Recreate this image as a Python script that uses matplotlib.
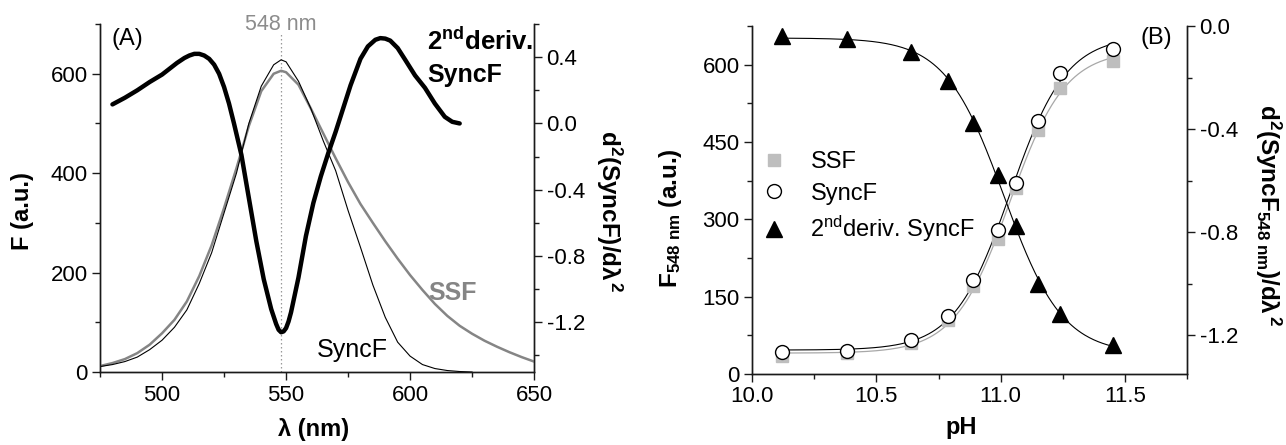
import matplotlib
matplotlib.use("Agg")
import matplotlib.pyplot as plt
import matplotlib.transforms as mtransforms
from matplotlib.ticker import MultipleLocator
import numpy as np

plt.rcParams['font.family'] = ['Liberation Sans', 'DejaVu Sans']
plt.rcParams['mathtext.fontset'] = 'custom'
plt.rcParams['mathtext.rm'] = 'Liberation Sans'
plt.rcParams['mathtext.it'] = 'Liberation Sans:italic'
plt.rcParams['mathtext.bf'] = 'Liberation Sans:bold'

# ---- panel A: spectra ----
# synchronous fluorescence (thin black)
wl_sync = [475, 480, 485, 490, 495, 500, 505, 510, 515, 520, 525, 530, 535, 540,
           545, 548, 550, 555, 560, 565, 570, 575, 580, 585, 590, 595, 600, 605,
           610, 615, 620, 625]
syncf = [11, 15, 21, 30, 45, 64, 90, 125, 178, 240, 320, 400, 500, 575,
         618, 628, 624, 585, 530, 465, 405, 325, 251, 175, 110, 60, 32, 15,
         7, 3, 1, 0]

# steady-state fluorescence (grey)
wl_ssf = [475, 480, 485, 490, 495, 500, 505, 510, 515, 520, 525, 530, 535, 540,
          545, 548, 550, 555, 560, 565, 570, 575, 580, 585, 590, 595, 600, 605,
          610, 615, 620, 625, 630, 635, 640, 645, 650]
ssf = [12, 18, 26, 38, 55, 78, 105, 142, 193, 255, 330, 410, 495, 565,
       600, 606, 603, 578, 530, 480, 430, 382, 338, 300, 263, 228, 195, 165,
       137, 113, 93, 77, 63, 51, 40, 30, 21]

# second derivative of SyncF (thick black, right axis)
wl_d2 = [480, 485, 490, 495, 500, 503, 506, 509, 511, 513, 515, 517, 519, 521,
         523, 525, 527, 529, 532, 535, 538, 541, 544, 546, 547, 548, 549, 550,
         551, 552, 555, 558, 561, 564, 567, 570, 573, 576, 580, 583, 586, 588,
         590, 592, 595, 598, 602, 606, 610, 614, 617, 620]
d2_sync = [0.115, 0.155, 0.20, 0.25, 0.295, 0.33, 0.365, 0.395, 0.41, 0.42, 0.42,
           0.41, 0.39, 0.355, 0.30, 0.22, 0.12, 0.00, -0.19, -0.45, -0.71, -0.94,
           -1.12, -1.21, -1.245, -1.26, -1.255, -1.235, -1.195, -1.14, -0.93,
           -0.68, -0.48, -0.32, -0.18, -0.05, 0.09, 0.23, 0.39, 0.465, 0.505,
           0.515, 0.512, 0.50, 0.455, 0.385, 0.29, 0.215, 0.12, 0.04, 0.01, 0.00]

peak_wl = 548

# ---- panel B: pH titration ----
ph = np.array([10.12, 10.38, 10.64, 10.79, 10.89, 10.99, 11.06, 11.15, 11.24, 11.45])
f_ssf = np.array([34, 40, 60, 105, 170, 262, 361, 474, 555, 607])
f_sync = np.array([42, 45, 65, 113, 183, 279, 371, 491, 584, 631])
d2_ph = np.array([-0.039, -0.052, -0.10, -0.213, -0.378, -0.578, -0.774,
                  -1.0, -1.116, -1.236])


def boltzmann(p, x):
    a1, a2, x0, dx = p
    return a2 + (a1 - a2) / (1 + np.exp((x - x0) / dx))


def fit_boltzmann(x, y):
    # small Levenberg-Marquardt loop, no scipy here
    p = np.array([y[0], y[-1], x.mean(), 0.15])
    lam = 1e-3
    for _ in range(300):
        r = y - boltzmann(p, x)
        J = np.empty((len(x), 4))
        for k in range(4):
            dp = np.zeros(4)
            dp[k] = 1e-6 * max(1.0, abs(p[k]))
            J[:, k] = (boltzmann(p + dp, x) - boltzmann(p, x)) / dp[k]
        A = J.T @ J
        step = np.linalg.solve(A + lam * np.diag(np.diag(A)) + 1e-12 * np.eye(4), J.T @ r)
        p_new = p + step
        if np.sum((y - boltzmann(p_new, x)) ** 2) < np.sum(r ** 2):
            p = p_new
            lam *= 0.3
        else:
            lam *= 10
    return p


fig = plt.figure(figsize=(12.86, 4.45), dpi=100)
axA = fig.add_axes([0.0778, 0.164, 0.3375, 0.782])
axA2 = axA.twinx()
axB = fig.add_axes([0.5848, 0.1596, 0.3383, 0.782])
axB2 = axB.twinx()


def style(ax):
    ax.spines['top'].set_visible(False)
    for s in ax.spines.values():
        s.set_linewidth(1.0)
        s.set_color('#1a1a1a')
    ax.tick_params(which='major', direction='out', length=5.5, width=1.0,
                   labelsize=16, pad=3.5, color='#1a1a1a')
    ax.tick_params(which='minor', direction='out', length=3.5, width=1.0,
                   color='#1a1a1a')
    ax.set_facecolor('none')


for ax in (axA, axA2, axB, axB2):
    style(ax)

# panel A
axA.plot(wl_ssf, ssf, color='#858585', lw=1.8, zorder=3)
axA.plot(wl_sync, syncf, color='black', lw=0.8, zorder=4)
axA.axvline(peak_wl, ymax=0.972, color='#999999', lw=0.9, ls=(0, (1.2, 2.0)), zorder=2)
axA2.plot(wl_d2, d2_sync, color='black', lw=3.2, solid_capstyle='round',
          solid_joinstyle='round', zorder=5)

axA.set_xlim(475, 650)
axA.set_ylim(0, 700)
axA2.set_ylim(-1.5, 0.6)
axA.xaxis.set_major_locator(MultipleLocator(50))
axA.xaxis.set_minor_locator(MultipleLocator(25))
axA.yaxis.set_major_locator(MultipleLocator(200))
axA.yaxis.set_minor_locator(MultipleLocator(100))
axA2.yaxis.set_major_locator(MultipleLocator(0.4))
axA2.yaxis.set_minor_locator(MultipleLocator(0.2))
axA2.yaxis.set_major_formatter(lambda v, pos: f'{v:.1f}'.replace('-0.0', '0.0'))

trA = mtransforms.blended_transform_factory(axA.transData, axA.transAxes)
axA.text(peak_wl, 0.998, '548 nm', transform=trA, ha='center', va='center',
         fontsize=15.5, color='#8c8c8c')
axA.text(0.026, 0.99, '(A)', transform=axA.transAxes, ha='left', va='top', fontsize=17)
axA.text(0.753, 0.925, r'2$^{\mathbf{nd}}$deriv.', transform=axA.transAxes,
         ha='left', va='baseline', fontsize=18.5, fontweight='bold')
axA.text(0.753, 0.833, 'SyncF', transform=axA.transAxes, ha='left', va='baseline',
         fontsize=18, fontweight='bold')
axA.text(0.756, 0.207, 'SSF', transform=axA.transAxes, ha='left', va='baseline',
         fontsize=18, fontweight='bold', color='#858585')
axA.text(0.50, 0.043, 'SyncF', transform=axA.transAxes, ha='left', va='baseline',
         fontsize=18)

# panel B
p_ssf = fit_boltzmann(ph, f_ssf)
p_sync = fit_boltzmann(ph, f_sync)
p_d2 = fit_boltzmann(ph, d2_ph)
xx = np.linspace(ph.min(), ph.max(), 300)
axB.plot(xx, boltzmann(p_ssf, xx), color='#a8a8a8', lw=0.9, zorder=2)
axB.plot(xx, boltzmann(p_sync, xx), color='black', lw=0.8, zorder=2)
axB2.plot(xx, boltzmann(p_d2, xx), color='black', lw=0.8, zorder=2)

h_ssf, = axB.plot(ph, f_ssf, ls='none', marker='s', ms=8, mfc='#bebebe',
                  mec='#bebebe', zorder=3)
h_sync, = axB.plot(ph, f_sync, ls='none', marker='o', ms=10, mfc='white',
                   mec='black', mew=1.0, zorder=4)
h_d2, = axB2.plot(ph, d2_ph, ls='none', marker='^', ms=11.5, mfc='black',
                  mec='black', zorder=4)

axB.set_xlim(10.0, 11.75)
axB.set_ylim(0, 675)
axB2.set_ylim(-1.35, 0.0)
axB.xaxis.set_major_locator(MultipleLocator(0.5))
axB.xaxis.set_minor_locator(MultipleLocator(0.25))
axB.xaxis.set_major_formatter(lambda v, pos: f'{v:.1f}')
axB.yaxis.set_major_locator(MultipleLocator(150))
axB.yaxis.set_minor_locator(MultipleLocator(75))
axB2.yaxis.set_major_locator(MultipleLocator(0.4))
axB2.yaxis.set_minor_locator(MultipleLocator(0.2))
axB2.yaxis.set_major_formatter(lambda v, pos: f'{v:.1f}'.replace('-0.0', '0.0'))

axB.text(0.892, 0.997, '(B)', transform=axB.transAxes, ha='left', va='top', fontsize=17)
axB2.legend([h_ssf, h_sync, h_d2], ['SSF', 'SyncF', r'2$^{\rm nd}$deriv. SyncF'],
            loc='upper left', bbox_to_anchor=(0.023, 0.64), frameon=False,
            fontsize=17, handlelength=1.0, handletextpad=1.05, labelspacing=0.4,
            borderpad=0.0, borderaxespad=0.0)

# axis labels
fig.text(0.0175, 0.526, 'F (a.u.)', rotation=90, ha='center', va='center',
         fontsize=17, fontweight='bold')
fig.text(0.244, 0.034, 'λ (nm)', ha='center', va='center', fontsize=17,
         fontweight='bold')
fig.text(0.4735, 0.525, r'$\mathbf{d^2(SyncF)/d\lambda^{\,2}}$', rotation=270,
         ha='center', va='center', fontsize=17.5)
fig.text(0.521, 0.51, r'F$_{\mathbf{548\ nm}}$ (a.u.)', rotation=90,
         ha='center', va='center', fontsize=17.5, fontweight='bold')
fig.text(0.7473, 0.04, 'pH', ha='center', va='center', fontsize=17, fontweight='bold')
fig.text(0.986, 0.518, r'$\mathbf{d^2(SyncF}_{\mathbf{548\ nm}}\mathbf{)/d\lambda^{\,2}}$',
         rotation=270, ha='center', va='center', fontsize=17.5)

fig.savefig('out.png', dpi=100)
